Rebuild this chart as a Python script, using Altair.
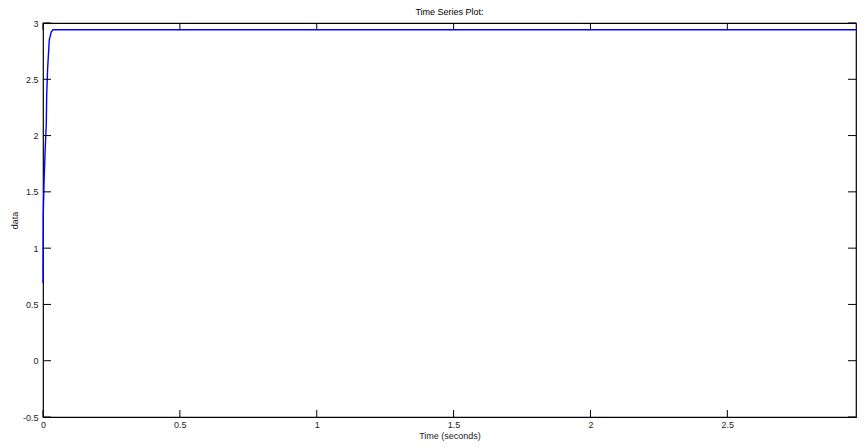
import altair as alt
import pandas as pd

# Series
time_s = [0, 0.001, 0.004, 0.008, 0.012, 0.0135, 0.017, 0.023, 0.03, 0.036, 2.97]
values = [0.69, 1.3, 1.6, 1.88, 2.1, 2.36, 2.6, 2.85, 2.92, 2.94, 2.94]

x_ticks = [0, 0.5, 1, 1.5, 2, 2.5]
y_ticks = [-0.5, 0, 0.5, 1, 1.5, 2, 2.5, 3]

W, H = 813, 394
XDOM = [0, 2.97]
YDOM = [-0.5, 3]
TL = 7

df = pd.DataFrame({"t": time_s, "v": values})
dx = pd.DataFrame({"t": x_ticks})
dy = pd.DataFrame({"v": y_ticks})

xscale = alt.Scale(domain=XDOM, nice=False, zero=False)
yscale = alt.Scale(domain=YDOM, nice=False, zero=False)

label_expr = "'' + datum.value"
xaxis = alt.Axis(values=x_ticks, labelExpr=label_expr, grid=False,
                 domain=False, ticks=False, labelPadding=3,
                 titlePadding=2, labelFlush=False)
yaxis = alt.Axis(values=y_ticks, labelExpr=label_expr, grid=False,
                 domain=False, ticks=False, labelPadding=5,
                 titlePadding=3, labelFlush=False)

X = alt.X("t:Q", scale=xscale, title="Time (seconds)", axis=xaxis)
Y = alt.Y("v:Q", scale=yscale, title="data", axis=yaxis)

line = alt.Chart(df).mark_line(color="#0000ff", strokeWidth=1.4).encode(x=X, y=Y)

bottom = alt.Chart(dx).mark_rule(color="black").encode(
    x=X, y=alt.value(H), y2=alt.value(H - TL))
top = alt.Chart(dx).mark_rule(color="black").encode(
    x=X, y=alt.value(0), y2=alt.value(TL))
left = alt.Chart(dy).mark_rule(color="black").encode(
    y=Y, x=alt.value(0), x2=alt.value(TL + 1))
right = alt.Chart(dy).mark_rule(color="black").encode(
    y=Y, x=alt.value(W), x2=alt.value(W - TL - 1))

chart = alt.layer(line, bottom, top, left, right).properties(
    width=W, height=H,
    title=alt.TitleParams("Time Series Plot:", fontSize=9, fontWeight="normal",
                          font="Liberation Sans", anchor="middle", offset=2,
                          color="black"),
    autosize=alt.AutoSizeParams(type="none"),
    padding={"left": 35, "top": 15, "right": 1, "bottom": 31},
).configure_view(stroke="black", strokeWidth=1.2).configure_axis(
    labelFont="Liberation Sans", titleFont="Liberation Sans",
    labelFontSize=9, titleFontSize=9, titleFontWeight="normal",
    labelColor="#222222", titleColor="#222222",
)

chart.save("out.html", embed_options={"renderer": "svg", "actions": False})
